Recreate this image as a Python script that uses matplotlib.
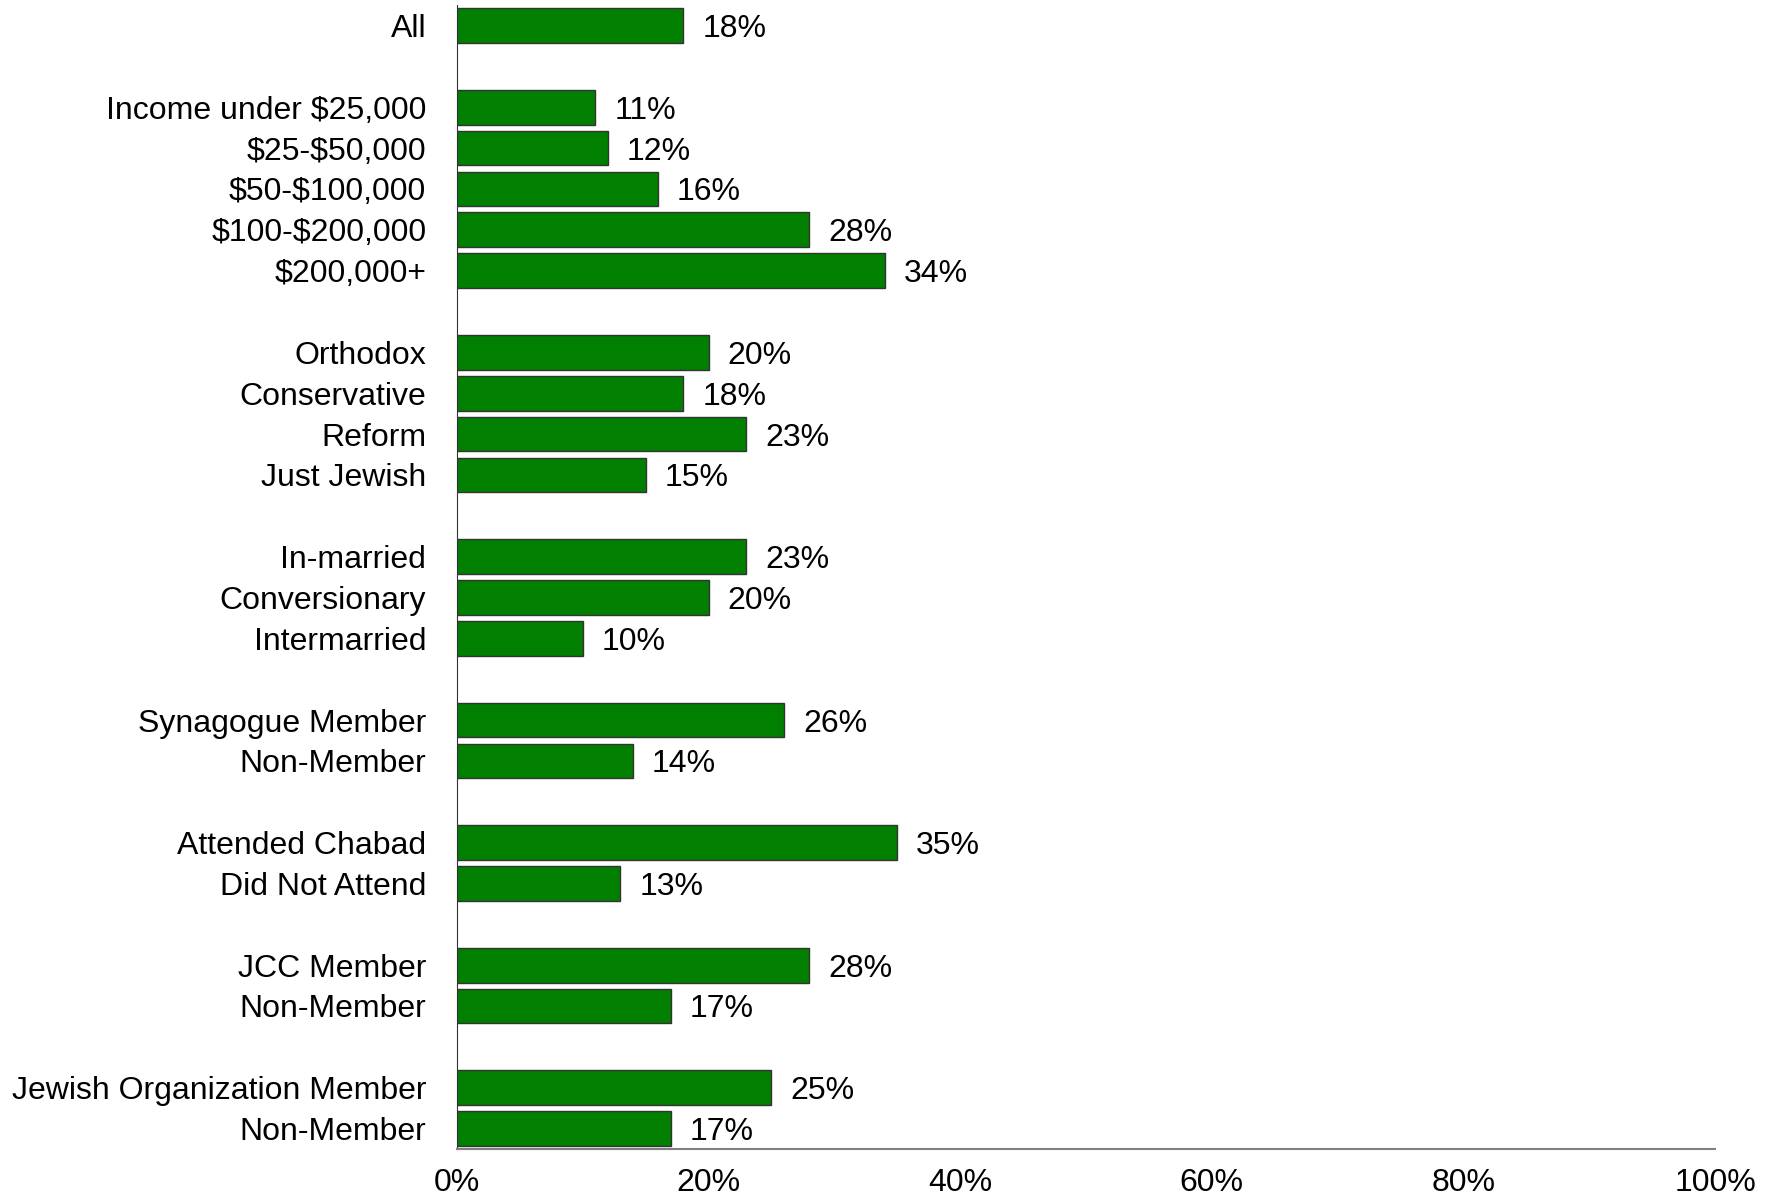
"""
Horizontal bar chart: share of respondents by group, with value labels.
"""
import numpy as np
import matplotlib.pyplot as plt

plt.rcParams['font.family'] = ['Liberation Sans', 'DejaVu Sans']

# Groups of categories, separated by a blank row in the chart
groups = [
    ["All"],
    ["Income under $25,000", "$25-$50,000", "$50-$100,000", "$100-$200,000", "$200,000+"],
    ["Orthodox", "Conservative", "Reform", "Just Jewish"],
    ["In-married", "Conversionary", "Intermarried"],
    ["Synagogue Member", "Non-Member"],
    ["Attended Chabad", "Did Not Attend"],
    ["JCC Member", "Non-Member"],
    ["Jewish Organization Member", "Non-Member"],
]
group_values = [
    [18],
    [11, 12, 16, 28, 34],
    [20, 18, 23, 15],
    [23, 20, 10],
    [26, 14],
    [35, 13],
    [28, 17],
    [25, 17],
]
x_ticks = [0, 20, 40, 60, 80, 100]

# Lay out rows, leaving one empty slot between groups
labels, values, positions = [], [], []
pos = 0
for names, vals in zip(groups, group_values):
    for name, v in zip(names, vals):
        labels.append(name)
        values.append(v)
        positions.append(pos)
        pos += 1
    pos += 1
positions = np.array(positions)

FS = 23

fig = plt.figure(figsize=(17.71, 12.02), dpi=100)
ax = fig.add_axes([0.258, 0.0441, 0.7104, 0.9517])

ax.barh(positions, values, height=0.85, color='#007F00',
        edgecolor='#333333', linewidth=1.0)

for p, v in zip(positions, values):
    ax.text(v + 1.5, p, f"{v}%", va='center_baseline', ha='left', fontsize=FS)

ax.set_xlim(0, 100)
ax.set_ylim(positions[-1] + 0.5, -0.5)
ax.set_yticks(positions)
ax.set_yticklabels([s.replace("$", r"\$") for s in labels], fontsize=FS)
for t in ax.get_yticklabels():
    t.set_verticalalignment('center_baseline')
ax.set_xticks(x_ticks)
ax.set_xticklabels([f"{t}%" for t in x_ticks], fontsize=FS)
ax.tick_params(axis='y', length=0, pad=22)
ax.tick_params(axis='x', length=0, pad=14)

for side in ['top', 'right']:
    ax.spines[side].set_visible(False)
ax.spines['left'].set_color('#333333')
ax.spines['bottom'].set_color('#808080')
ax.spines['bottom'].set_linewidth(1.5)

fig.savefig("out.png", dpi=100)
